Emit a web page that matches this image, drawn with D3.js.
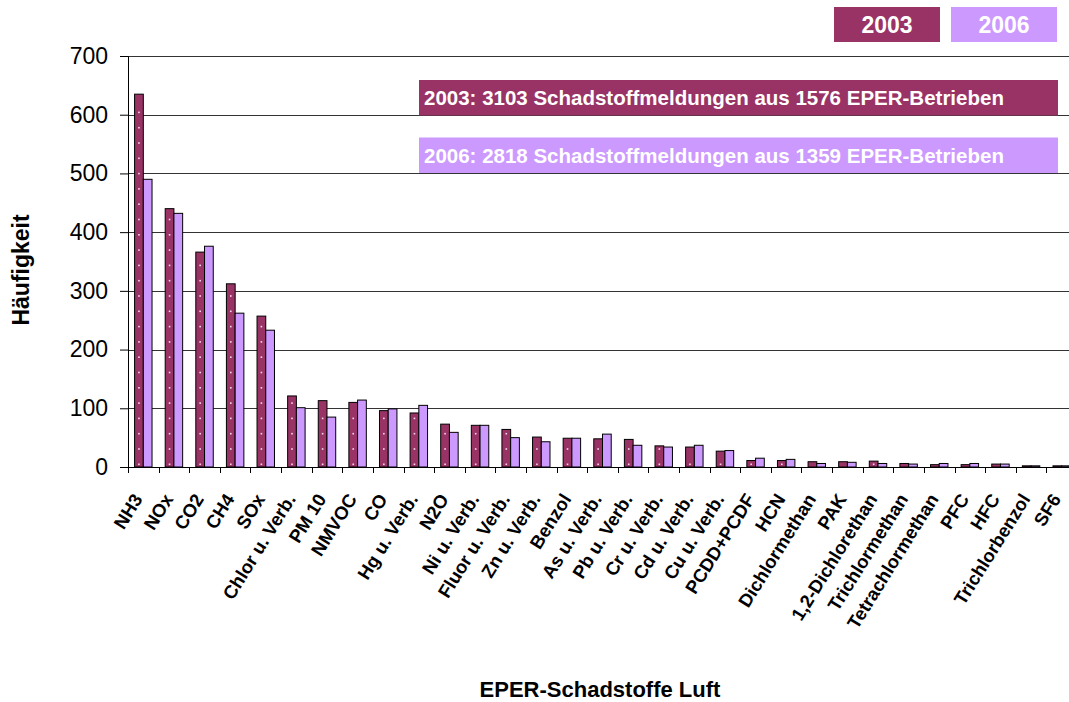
<!DOCTYPE html>
<html>
<head>
<meta charset="utf-8">
<script src="https://cdn.jsdelivr.net/npm/d3@7"></script>
<style>
  body { margin: 0; background: #fff; }
  text { font-family: "Liberation Sans", Arial, sans-serif; }
</style>
</head>
<body>
<div id="chart"></div>
<script>
// EPER Schadstoffe Luft, 2003 vs 2006

const categories = ["NH3", "NOx", "CO2", "CH4", "SOx", "Chlor u. Verb.", "PM 10", "NMVOC", "CO", "Hg u. Verb.",
  "N2O", "Ni u. Verb.", "Fluor u. Verb.", "Zn u. Verb.", "Benzol", "As u. Verb.", "Pb u. Verb.", "Cr u. Verb.",
  "Cd u. Verb.", "Cu u. Verb.", "PCDD+PCDF", "HCN", "Dichlormethan", "PAK", "1,2-Dichlorethan", "Trichlormethan",
  "Tetrachlormethan", "PFC", "HFC", "Trichlorbenzol", "SF6"]

const values2003 = [635, 440, 366, 312, 257, 121, 113, 110, 96, 92,
  73, 71, 64, 51, 49, 48, 47, 36, 34, 27, 11, 11, 9, 9, 10, 6, 4, 4, 5, 2, 2]

const values2006 = [490, 432, 376, 262, 233, 101, 85, 114, 99, 105,
  59, 71, 50, 43, 49, 56, 37, 34, 37, 28, 15, 13, 6, 8, 6, 5, 6, 6, 5, 2, 2]

const years = ["2003", "2006"]
const yTicks = [0, 100, 200, 300, 400, 500, 600, 700]

const notes = ["2003: 3103 Schadstoffmeldungen aus 1576 EPER-Betrieben",
  "2006: 2818 Schadstoffmeldungen aus 1359 EPER-Betrieben"]

const colors = { "2003": "#993366", "2006": "#CC99FF" }

const margin = { top: 56, right: -8, bottom: 235, left: 128 }
const width = 1069 - margin.left - margin.right
const height = 702 - margin.top - margin.bottom

const root = d3.select("#chart").append("svg")
  .attr("width", 1069)
  .attr("height", 702)

root.append("rect").attr("width", 1069).attr("height", 702).attr("fill", "#fff")

const svg = root.append("g")
  .attr("transform", "translate(" + margin.left + "," + margin.top + ")")

const xPositionScale = d3.scaleBand()
  .domain(categories)
  .range([0, width])
  .paddingInner(0.43)
  .paddingOuter(0.215)

const xYearScale = d3.scaleBand()
  .domain(years)
  .range([0, xPositionScale.bandwidth()])

const yPositionScale = d3.scaleLinear()
  .domain([0, 700])
  .range([height, 0])

// gridlines
svg.selectAll(".grid")
  .data(yTicks.filter(d => d > 0))
  .join("line")
  .attr("class", "grid")
  .attr("x1", 0)
  .attr("x2", width)
  .attr("y1", d => Math.round(yPositionScale(d)) + 0.5)
  .attr("y2", d => Math.round(yPositionScale(d)) + 0.5)
  .attr("stroke", "#333")
  .attr("stroke-width", 1)

// build rows for the bars
const rows = []
categories.forEach((c, i) => {
  rows.push({ cat: c, year: "2003", value: values2003[i] })
  rows.push({ cat: c, year: "2006", value: values2006[i] })
})

svg.selectAll(".bar")
  .data(rows)
  .join("rect")
  .attr("class", "bar")
  .attr("x", d => xPositionScale(d.cat) + xYearScale(d.year))
  .attr("y", d => yPositionScale(d.value))
  .attr("width", xYearScale.bandwidth())
  .attr("height", d => height - yPositionScale(d.value))
  .attr("fill", d => colors[d.year])
  .attr("stroke", "#000")
  .attr("stroke-width", 1)

// the little white dots on the 2003 bars
const dotStep = 15.3
const dots = []
rows.filter(d => d.year === "2003").forEach(d => {
  const top = yPositionScale(d.value)
  for (let y = height - 2.7; y > top + 3; y -= dotStep) {
    dots.push({ x: xPositionScale(d.cat) + xYearScale.bandwidth() / 2, y: y })
  }
})

svg.selectAll(".dot")
  .data(dots)
  .join("rect")
  .attr("class", "dot")
  .attr("x", d => d.x - 0.8)
  .attr("y", d => d.y - 0.8)
  .attr("width", 1.6)
  .attr("height", 1.6)
  .attr("fill", "#f4dbe8")

// axes
const yAxis = d3.axisLeft(yPositionScale)
  .tickValues(yTicks)
  .tickSize(8)
  .tickPadding(12)

svg.append("g")
  .attr("class", "y-axis")
  .call(yAxis)
  .call(g => g.select(".domain").attr("stroke", "#000"))
  .call(g => g.selectAll("text")
    .attr("font-size", 23)
    .attr("fill", "#000")
    .style("font-family", "'Liberation Sans', Arial, sans-serif"))

// x axis line + ticks at the category boundaries
svg.append("line")
  .attr("x1", 0)
  .attr("x2", width)
  .attr("y1", height + 0.5)
  .attr("y2", height + 0.5)
  .attr("stroke", "#000")

const step = xPositionScale.step()
svg.selectAll(".xtick")
  .data(d3.range(categories.length + 1))
  .join("line")
  .attr("class", "xtick")
  .attr("x1", d => Math.round(d * step) + 0.5)
  .attr("x2", d => Math.round(d * step) + 0.5)
  .attr("y1", height)
  .attr("y2", height + 6)
  .attr("stroke", "#000")

svg.selectAll(".xlabel")
  .data(categories)
  .join("text")
  .attr("class", "xlabel")
  .attr("text-anchor", "end")
  .attr("font-weight", "bold")
  .attr("font-size", 18.5)
  .attr("transform", d => {
    const x = xPositionScale(d) + xPositionScale.bandwidth() / 2
    return "translate(" + x + "," + (height + 32) + ") rotate(-58)"
  })
  .text(d => d)

// axis titles
root.append("text")
  .attr("text-anchor", "middle")
  .attr("font-weight", "bold")
  .attr("font-size", 23)
  .attr("transform", "translate(29,270) rotate(-90)")
  .text("Häufigkeit")

root.append("text")
  .attr("x", 600)
  .attr("y", 697)
  .attr("text-anchor", "middle")
  .attr("font-weight", "bold")
  .attr("font-size", 22)
  .text("EPER-Schadstoffe Luft")

// legend
const legend = root.selectAll(".legend")
  .data(years)
  .join("g")
  .attr("class", "legend")
  .attr("transform", (d, i) => "translate(" + (834 + i * 117) + ",7)")

legend.append("rect")
  .attr("width", 106)
  .attr("height", 35)
  .attr("fill", d => colors[d])

legend.append("text")
  .attr("x", 53)
  .attr("y", 25.5)
  .attr("text-anchor", "middle")
  .attr("font-weight", "bold")
  .attr("font-size", 23)
  .attr("fill", "#fff")
  .text(d => d)

// the two notes
const note = root.selectAll(".note")
  .data(notes)
  .join("g")
  .attr("class", "note")
  .attr("transform", (d, i) => "translate(419," + (80 + i * 57.5) + ")")

note.append("rect")
  .attr("width", 639)
  .attr("height", 35.5)
  .attr("fill", (d, i) => colors[years[i]])

note.append("text")
  .attr("x", 5)
  .attr("y", 25)
  .attr("font-weight", "bold")
  .attr("font-size", 20.5)
  .attr("fill", "#fff")
  .text(d => d)
</script>
</body>
</html>
